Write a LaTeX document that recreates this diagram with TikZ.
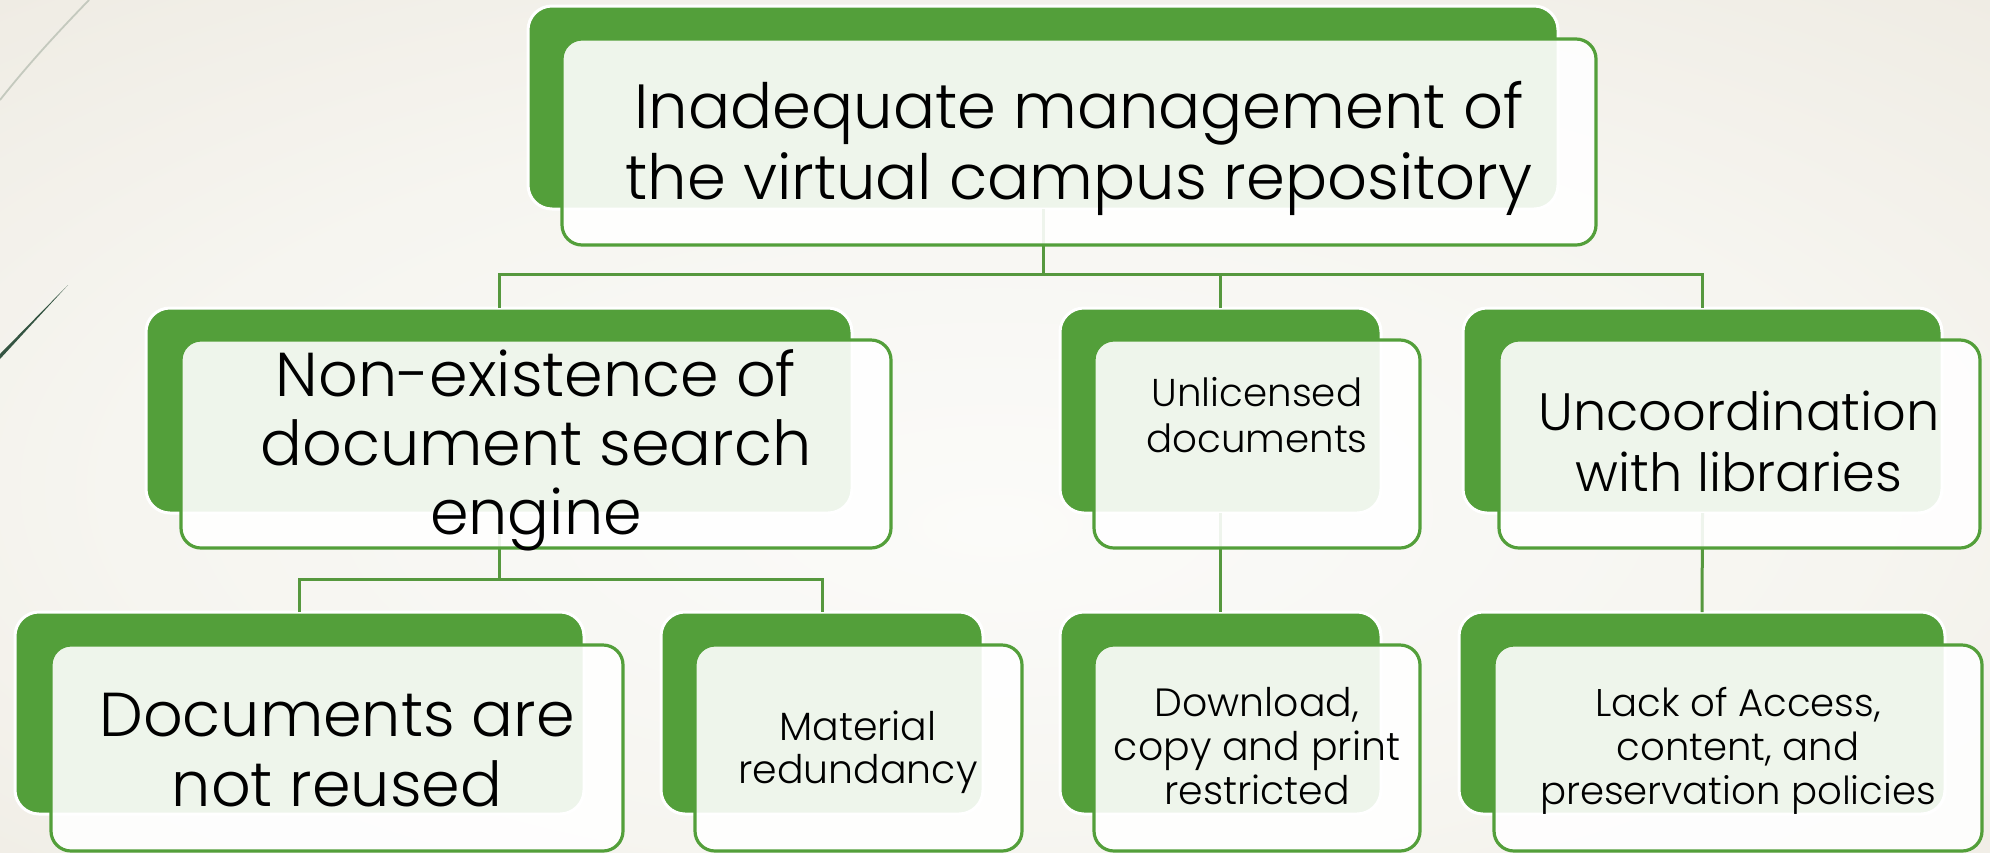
\documentclass[tikz,border=0pt]{standalone}
\usepackage{fontspec}
\setmainfont{Poppins Light}
\definecolor{boxgreen}{RGB}{83,159,58}
\definecolor{linkgreen}{RGB}{86,152,62}
\definecolor{bgin}{RGB}{251,251,249}
\definecolor{bgmid}{RGB}{246,245,240}
\definecolor{bgedge}{RGB}{237,233,224}
\definecolor{bgout}{RGB}{226,219,205}
\definecolor{wispgrey}{RGB}{196,201,190}
\definecolor{wispdark}{RGB}{52,84,66}
\pgfdeclareradialshading{pagebg}{\pgfpoint{0bp}{-6bp}}{%
  color(0bp)=(bgin); color(22bp)=(bgmid); color(42bp)=(bgedge); color(60bp)=(bgout)}
\tikzset{
  backbox/.style={draw=white, line width=1.5pt, fill=boxgreen,
    rounded corners=12pt, inner sep=0pt, outer sep=0pt},
  frontbox/.style={draw=boxgreen, line width=1.6pt, fill=white, fill opacity=0.9,
    rounded corners=10pt, inner sep=0pt, outer sep=0pt},
  link/.style={draw=linkgreen, line width=1.5pt},
  boxtext/.style={inner sep=0pt, align=center, text=black},
}
\begin{document}
\begin{tikzpicture}[x=0.5pt,y=-0.5pt]
\useasboundingbox (0,0) rectangle (1990,852);
% page background and corner wisps
\shade[shading=pagebg] (0,0) rectangle (1990,852);
\draw[wispgrey, line width=0.9pt] (0,100) .. controls (30,62) and (60,30) .. (89,0);
\fill[wispdark] (0,354) -- (68,285) -- (0,359) -- cycle;

% bus coordinates
\coordinate (bus1) at (1043,274);
\coordinate (bus2) at (499,579);

% green back panels
\node[backbox, minimum width=515pt, minimum height=101.5pt] (top-back) at (1043,107.5) {};
\node[backbox, minimum width=353pt, minimum height=102.5pt] (nonex-back) at (499,410.5) {};
\node[backbox, minimum width=160.5pt, minimum height=102.5pt] (unlic-back) at (1220.5,410.5) {};
\node[backbox, minimum width=239.5pt, minimum height=102.5pt] (uncoord-back) at (1702.5,410.5) {};
\node[backbox, minimum width=284.5pt, minimum height=101pt] (docs-back) at (299.5,713) {};
\node[backbox, minimum width=161pt, minimum height=101pt] (mat-back) at (822,713) {};
\node[backbox, minimum width=160.5pt, minimum height=101pt] (down-back) at (1220.5,713) {};
\node[backbox, minimum width=243pt, minimum height=101pt] (lack-back) at (1702,713) {};

% connectors (drawn beneath the translucent front panels)
\draw[link] (top-back.south) -- (top-back.south |- bus1);
\draw[link] (nonex-back.north) |- (bus1) -| (uncoord-back.north);
\draw[link] (unlic-back.north) -- (unlic-back.north |- bus1);
\draw[link] (nonex-back.south) -- (bus2);
\draw[link] (docs-back.north) |- (bus2) -| (mat-back.north);
\draw[link] (unlic-back.south) -- (down-back.north);
\draw[link] (uncoord-back.south) -- (lack-back.north);

% front panels
\node[frontbox, minimum width=517pt, minimum height=103pt] (top-front) at (1079,142) {};
\node[frontbox, minimum width=355pt, minimum height=104pt] (nonex-front) at (536,444) {};
\node[frontbox, minimum width=163pt, minimum height=104pt] (unlic-front) at (1257,444) {};
\node[frontbox, minimum width=240.5pt, minimum height=104pt] (uncoord-front) at (1739.5,444) {};
\node[frontbox, minimum width=286pt, minimum height=103pt] (docs-front) at (337,748) {};
\node[frontbox, minimum width=163.5pt, minimum height=103pt] (mat-front) at (858.5,748) {};
\node[frontbox, minimum width=163pt, minimum height=103pt] (down-front) at (1257,748) {};
\node[frontbox, minimum width=244pt, minimum height=103pt] (lack-front) at (1738,748) {};

% texts
\node[boxtext, font=\fontsize{31.2}{35.5}\selectfont] (top-text) at (1079,150)
  {\strut Inadequate management of\\\strut the virtual campus repository};
\node[boxtext, font=\fontsize{31}{34.5}\selectfont] (nonex-text) at (536,452)
  {\strut Non-existence of\\\strut document search\\\strut engine};
\node[boxtext, font=\fontsize{19.4}{23}\selectfont] (unlic-text) at (1257,420)
  {\strut Unlicensed\\\strut documents};
\node[boxtext, font=\fontsize{26.3}{30.5}\selectfont] (uncoord-text) at (1739,449)
  {\strut Uncoordination\\\strut with libraries};
\node[boxtext, font=\fontsize{31}{35}\selectfont] (docs-text) at (337,757)
  {\strut Documents are\\\strut not reused};
\node[boxtext, font=\fontsize{19.7}{21.5}\selectfont] (mat-text) at (858,753)
  {\strut Material\\\strut redundancy};
\node[boxtext, font=\fontsize{19.7}{22}\selectfont] (down-text) at (1257,752)
  {\strut Download,\\\strut copy and print\\\strut restricted};
\node[boxtext, font=\fontsize{19.3}{22}\selectfont] (lack-text) at (1738,752)
  {\strut Lack of Access,\\\strut content, and\\\strut preservation policies};
\end{tikzpicture}
\end{document}
